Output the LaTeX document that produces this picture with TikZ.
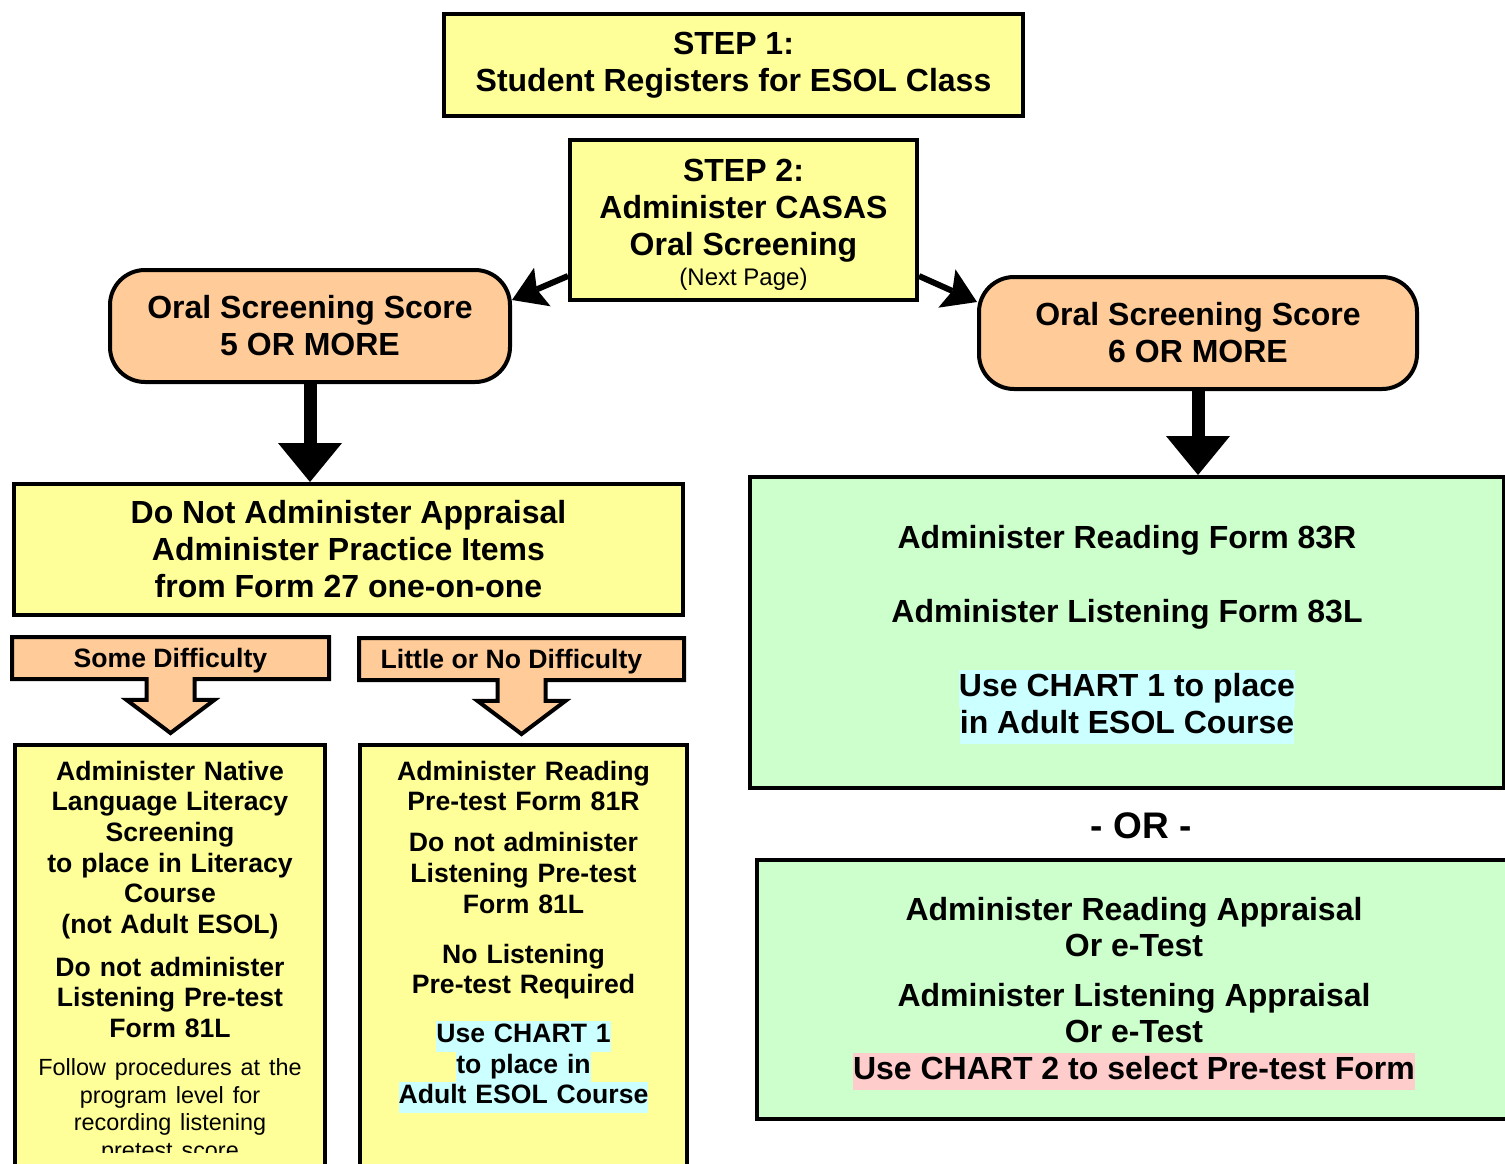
\documentclass[tikz,border=0pt]{standalone}
\usepackage{fontspec}
\setmainfont{Liberation Sans}
\usetikzlibrary{arrows.meta,shapes.arrows}
\definecolor{paleyellow}{HTML}{FFFF99}
\definecolor{peach}{HTML}{FFCC99}
\definecolor{palegreen}{HTML}{CCFFCC}
\definecolor{palecyan}{HTML}{CCFFFF}
\definecolor{palepink}{HTML}{FFCCCC}
\setlength\parindent{0pt}
\newcommand\hlcyan[1]{{\setlength\fboxsep{0pt}\colorbox{palecyan}{\strut#1}}}
\newcommand\hlpink[1]{{\setlength\fboxsep{0pt}\colorbox{palepink}{\strut#1}}}
\newcommand\raiseline[1]{\rule{0pt}{#1}}
\begin{document}
\begin{tikzpicture}[x=1pt,y=-1pt]
  \tikzset{box/.style={draw,line width=4pt,fill=#1,align=center,inner sep=0pt},
    bigfont/.style={font=\fontsize{32}{37}\selectfont\bfseries},
    medfont/.style={font=\fontsize{26.6}{30.6}\selectfont\bfseries},
    score box/.style={box=peach,bigfont,rounded corners=35pt,minimum width=#1,minimum height=112pt},
    diff/.style={arrow box,draw,line width=4pt,fill=peach,medfont,inner sep=0pt,minimum height=42pt,
      text height=19pt,text depth=0pt,
      arrow box arrows={south:52pt},arrow box shaft width=48pt,arrow box head extend=20pt,
      arrow box head indent=0pt,arrow box tip angle=106},
    side link/.style={line width=6pt,-{Stealth[length=33pt,width=42pt,inset=6pt,line width=0pt]}},
    down link/.style={line width=13pt,-{Triangle[length=39pt,width=64pt,line width=0pt]}}}
  \useasboundingbox (0,0) rectangle (1505,1163);
  \clip (0,0) rectangle (1505,1163);

  \node [box=paleyellow,bigfont,minimum width=579pt,minimum height=102pt] (step1) at (733.5,65)
    {STEP 1:\\Student Registers for ESOL Class};
  \node [box=paleyellow,bigfont,minimum width=347pt,minimum height=160pt] (step2) at (743.5,220)
    {\raiseline{32pt}STEP 2:\\Administer CASAS\\Oral Screening\\[-7pt]{\fontsize{24}{28}\selectfont\mdseries (Next Page)}};
  \node [score box=400pt] (low) at (310,326) {Oral Screening Score\\5 OR MORE};
  \node [score box=438pt] (high) at (1198,333) {Oral Screening Score\\6 OR MORE};

  % left branch
  \node [box=paleyellow,bigfont,minimum width=669pt,minimum height=131pt] (noappr) at (348.5,549.5)
    {Do Not Administer Appraisal\\Administer Practice Items\\from Form 27 one-on-one};
  \node [diff,minimum width=317pt] (some) at (170.5,658) {Some Difficulty};
  \node [diff,minimum width=325pt] (little) at (521.5,659) {Little or No Difficulty\kern20pt};
  \node [box=paleyellow,medfont,anchor=north,text width=296pt,inner xsep=7pt,inner ysep=16pt] (native) at (170,743)
    {Administer Native\\Language Literacy\\Screening\\to place in Literacy\\Course\\(not Adult ESOL)\par\vspace{12.4pt}
     Do not administer\\Listening Pre-test\\Form 81L\par\vspace{10.3pt}
     {\fontsize{23.4}{27.7}\selectfont\mdseries Follow procedures at the\\program level for\\recording listening\\pretest score\par}};
  % text runs out of the box here
  \fill [paleyellow] ([xshift=4pt]native.south west |- 0,1153) rectangle ([xshift=-4pt]native.south east);
  \node [box=paleyellow,medfont,anchor=north,text width=313pt,inner xsep=7pt,inner ysep=16pt] (pretest) at (523.5,743)
    {Administer Reading\\Pre-test Form 81R\par\vspace{10.4pt}
     Do not administer\\Listening Pre-test\\Form 81L\par\vspace{19.4pt}
     No Listening\\Pre-test Required\par\vspace{18.4pt}
     \hlcyan{Use CHART 1}\\\hlcyan{to place in}\\\hlcyan{Adult ESOL Course}\par\vspace*{60pt}\null};

  % right branch
  \node [box=palegreen,bigfont,minimum width=754pt,minimum height=311pt] (chartA) at (1127,632.5)
    {\raiseline{27.5pt}Administer Reading Form 83R\\[37pt]Administer Listening Form 83L\\[37pt]\hlcyan{Use CHART 1 to place}\\\hlcyan{in Adult ESOL Course}};
  \node [font=\fontsize{37}{42}\selectfont\bfseries] (orLabel) at (1141,826) {- OR -};
  \node [box=palegreen,bigfont,minimum width=754pt,minimum height=259pt] (chartB) at (1134,989.5)
    {\raiseline{31.5pt}Administer Reading Appraisal\\[-1pt]Or e-Test\\[13pt]Administer Listening Appraisal\\[-1pt]Or e-Test\\\hlpink{Use CHART 2 to select Pre-test Form}};

  \draw [side link] ([yshift=26pt]step2.south west) -- ([yshift=26pt]low.east);
  \draw [side link] ([yshift=26pt]step2.south east) -- ([yshift=31pt]high.west);
  \draw [down link] (low.south) -- (low.south |- noappr.north);
  \draw [down link] (high.south) -- (high.south |- chartA.north);
\end{tikzpicture}
\end{document}
